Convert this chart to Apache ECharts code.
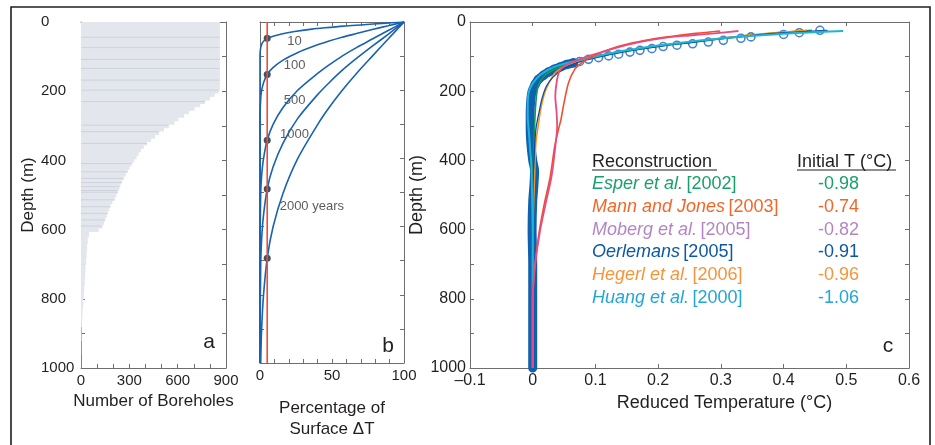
<!DOCTYPE html>
<html>
<head>
<meta charset="utf-8">
<script src="https://cdn.jsdelivr.net/npm/echarts@6/dist/echarts.min.js"></script>
<style>
html,body{margin:0;padding:0;background:#fff;}
#chart{width:935px;height:445px;}
</style>
</head>
<body>
<div id="chart"></div>
<script>
// ---- panel a : number of boreholes reaching each depth ----
var boreBinTop = [0,196,205,215,225,235,245,255,265,275,285,295,305,315,325,335,345,355,365,375,385,395,405,415,425,435,445,455,465,475,485,495,505,515,525,535,545,555,565,575,585,595,605,620,640,660,680,700,720,740,760,780,800,820,840,860,880,920,960];
var boreCount  = [862,855,830,800,770,740,705,670,640,605,580,545,515,485,460,435,410,390,372,358,345,330,315,302,290,278,265,255,245,238,228,220,210,195,183,175,165,160,150,142,132,110,50,42,38,35,32,28,26,23,20,17,14,11,8,6,4,2,1];
var boreLineDepth = [44,74,108,134,168,197,230,298,317,351,409,433,452,464,476,487,492,514,534,553,572,590];

// ---- panel b : step change penetration, % of surface dT ----
var stepDepth10   = [0,4,8,12,17,21,28,35,42,48,55,65,80,100,1000];
var stepPct10     = [100,85,72,58,45,36,24,15,9,5,2.8,1.2,0.3,0,0];
var stepDepth100  = [0,11,22,34,45,56,67,90,112,134,154,179,202,224,280,1000];
var stepPct100    = [100,89,78,67,57,48,40,26,16,9,5,2.4,1.1,0.5,0,0];
var stepDepth500  = [0,25,50,75,100,126,151,201,251,301,347,402,452,502,628,753,1000];
var stepPct500    = [100,89,78,67,57,48,40,26,16,9,5,2.4,1.1,0.5,0.1,0,0];
var stepDepth1000 = [0,36,71,107,142,178,213,284,355,426,490,568,639,710,888,1000];
var stepPct1000   = [100,89,78,67,57,48,40,26,16,9,5,2.4,1.1,0.5,0.1,0];
var stepDepth2000 = [0,50,100,151,201,251,301,402,502,602,693,803,904,1000];
var stepPct2000   = [100,89,78,67,57,48,40,26,16,9,5,2.4,1.1,0.5];
var stepLabels      = ['10','100','500','1000','2000 years'];
var stepLabelPct    = [24,24,24,24,36];
var stepLabelDepth  = [56,128,229,331,540];
var dotDepth = [48,154,347,490,693];
var dotPct = 5;

// ---- panel c : reduced temperature profiles (T degC, depth m) ----
var circDepth = [24,31,36,43,47,53,58,63,67,71,77,82,87,93,98,103,108,114,118,123,130,137,145,154,166,180];
var circT     = [0.458,0.425,0.40,0.348,0.332,0.304,0.280,0.255,0.230,0.208,0.190,0.171,0.155,0.137,0.121,0.105,0.089,0.075,0.065,0.054,0.044,0.034,0.025,0.017,0.009,0.004];
var deepDepth = [118,123,130,137,145,154,166,180,200,224,262,311,350,400,430,470,520,600,700,1000];
var deepT     = [0.065,0.054,0.044,0.034,0.025,0.017,0.009,0.004,-0.001,-0.003,-0.004,-0.004,-0.003,0,0.003,0.002,0,-0.001,0,0];
var huangDepth = [26,30,34,40,48,57,68,79,88,100,108,116,126,138,153,170,195,230,270,320,370,420,500,600,1000];
var huangT     = [0.495,0.44,0.40,0.35,0.30,0.25,0.20,0.16,0.13,0.10,0.08,0.06,0.04,0.025,0.012,0.003,-0.005,-0.008,-0.008,-0.006,-0.004,-0.002,-0.001,0,0];
var esperDepth = [24,30,38,48,59,70,84,98,110,122,137,150,166,190,233,300,400,500,1000];
var esperT     = [0.445,0.40,0.35,0.30,0.25,0.20,0.15,0.11,0.08,0.055,0.035,0.022,0.014,0.008,0.005,0.003,0.001,0,0];
var hegerlDepth = [24,29,37,47,58,69,83,97,110,121,134,148,162,200,250,310,350,446,550,700,1000];
var hegerlT     = [0.437,0.40,0.35,0.30,0.25,0.20,0.15,0.11,0.08,0.06,0.045,0.035,0.030,0.020,0.013,0.008,0.005,0.003,0.001,0,0];
var oerlDepth = [24,31,39,49,60,71,85,99,112,125,140,160,185,220,253,311,400,500,1000];
var oerlT     = [0.47,0.40,0.35,0.30,0.25,0.20,0.15,0.11,0.08,0.06,0.045,0.032,0.022,0.015,0.011,0.005,0.002,0,0];
var mannDepth = [26,33,42,53,69,88,104,118,137,176,233,282,311,360,446,530,610,697,760,800,1000];
var mannT     = [0.299,0.26,0.22,0.18,0.14,0.11,0.09,0.078,0.067,0.057,0.050,0.045,0.041,0.035,0.028,0.018,0.010,0.004,0.001,0,0];
var mobergDepth = [26,33,39,46,58,76,96,113,128,145,176,214,260,300,360,446,530,600,697,760,800,1000];
var mobergT     = [0.328,0.29,0.25,0.21,0.17,0.13,0.094,0.067,0.05,0.042,0.038,0.036,0.038,0.039,0.036,0.030,0.020,0.012,0.004,0.001,0,0];

var legendNames = ['Esper et al.','Mann and Jones','Moberg et al.','Oerlemans','Hegerl et al.','Huang et al.'];
var legendYears = ['[2002]','[2003]','[2005]','[2005]','[2006]','[2000]'];
var legendInitT = ['-0.98','-0.74','-0.82','-0.91','-0.96','-1.06'];
var legendColors = ['#19a06b','#f26629','#b485c5','#0c58a6','#f7943a','#22a5d7'];

var txt = '#231f20';
var axCol = '#6d6e70';
var font = 'Liberation Sans, Arial, sans-serif';

function pairs(xs, ys){
    return xs.map(function(x, i){ return [x, ys[i]]; });
}

function xAx(grid, min, max, interval, pos, fmt, name, gap, extra){
    var ax = {
        type:'value', gridIndex:grid, position:pos, min:min, max:max, interval:interval,
        axisLine:{onZero:false, lineStyle:{color:axCol, width:1}},
        axisTick:{inside:true, length:4, lineStyle:{color:axCol}},
        splitLine:{show:false},
        axisLabel:{show:pos === 'bottom', formatter:fmt, color:txt, fontFamily:font, fontSize:15, margin:5},
        name:pos === 'bottom' ? name : '', nameLocation:'middle', nameGap:gap,
        nameTextStyle:{color:txt, fontFamily:font, fontSize:17}
    };
    if (extra) { extra(ax); }
    return ax;
}

function yAx(grid, pos, labels, name, gap, extra){
    var ax = {
        type:'value', gridIndex:grid, position:pos, min:0, max:1000, interval:100, inverse:true,
        axisLine:{onZero:false, lineStyle:{color:axCol, width:1}},
        axisTick:{inside:true, length:4, lineStyle:{color:axCol}},
        splitLine:{show:false},
        axisLabel:{show:labels, color:txt, fontFamily:font, fontSize:15, margin:5,
            formatter:function(v){ return v % 200 === 0 ? String(v) : ''; }},
        name:name, nameLocation:'middle', nameGap:gap,
        nameTextStyle:{color:txt, fontFamily:font, fontSize:17}
    };
    if (extra) { extra(ax); }
    return ax;
}

var chart = echarts.init(document.getElementById('chart'));

function countAt(d){
    var c = 0;
    for (var i = 0; i < boreBinTop.length; i++) { if (boreBinTop[i] <= d) { c = boreCount[i]; } }
    return c;
}

var stepSets = [[stepPct10,stepDepth10],[stepPct100,stepDepth100],[stepPct500,stepDepth500],[stepPct1000,stepDepth1000],[stepPct2000,stepDepth2000]];

var series = [
    {
        type:'custom', xAxisIndex:0, yAxisIndex:0, silent:true,
        data: boreBinTop.map(function(d, i){
            return [boreCount[i], d, i < boreBinTop.length - 1 ? boreBinTop[i+1] : 1000];
        }),
        encode:{x:0, y:[1,2]},
        renderItem:function(params, api){
            var p0 = api.coord([0, api.value(1)]);
            var p1 = api.coord([api.value(0), api.value(2)]);
            return {type:'rect', shape:{x:p0[0], y:p0[1], width:p1[0]-p0[0], height:p1[1]-p0[1]+0.6},
                style:{fill:'#e3e6ed'}};
        }
    },
    {
        type:'custom', xAxisIndex:0, yAxisIndex:0, silent:true,
        data: boreLineDepth.map(function(d){ return [countAt(d), d]; }),
        renderItem:function(params, api){
            var p0 = api.coord([0, api.value(1)]);
            var p1 = api.coord([api.value(0), api.value(1)]);
            return {type:'line', shape:{x1:p0[0], y1:p0[1], x2:p1[0], y2:p1[1]},
                style:{stroke:'#cdd2dc', lineWidth:1}};
        }
    }
];

stepSets.forEach(function(s){
    series.push({type:'line', xAxisIndex:2, yAxisIndex:2, data:pairs(s[0], s[1]), smooth:0.3,
        showSymbol:false, lineStyle:{color:'#1862b0', width:1.6}, silent:true});
});
series.push({type:'line', xAxisIndex:2, yAxisIndex:2, data:[[dotPct,0],[dotPct,1000]], showSymbol:false,
    lineStyle:{color:'#ef4b36', width:1.6}, silent:true});
series.push({type:'scatter', xAxisIndex:2, yAxisIndex:2, silent:true,
    data:dotDepth.map(function(d){ return [dotPct, d]; }), symbolSize:7, itemStyle:{color:'#222'}});
series.push({type:'scatter', xAxisIndex:2, yAxisIndex:2, silent:true, symbolSize:0,
    data:stepLabels.map(function(l, i){ return {value:[stepLabelPct[i], stepLabelDepth[i]], name:l}; }),
    label:{show:true, position:'inside', formatter:'{b}', color:'#333', fontFamily:font, fontSize:13}});

function cLine(xs, ys, color, width){
    return {type:'line', xAxisIndex:4, yAxisIndex:4, data:pairs(xs, ys), smooth:0.3, showSymbol:false,
        lineStyle:{color:color, width:width}, silent:true};
}
var deep = cLine(deepT, deepDepth, '#1060b0', 9);
deep.lineStyle.cap = 'round';
deep.lineStyle.join = 'round';
deep.clip = false;
series.push(deep);
series.push({type:'scatter', xAxisIndex:4, yAxisIndex:4, data:pairs(circT, circDepth), symbol:'circle',
    symbolSize:8, itemStyle:{color:'#fff', borderColor:'#1a68bd', borderWidth:1.6}, silent:true});
series.push(cLine(esperT, esperDepth, '#12985c', 1.6));
series.push(cLine(hegerlT, hegerlDepth, '#f7941d', 1.6));
series.push(cLine(oerlT, oerlDepth, '#0b4f9c', 1.3));
series.push(cLine(huangT, huangDepth, '#1db4d6', 2));
series.push(cLine(mannT, mannDepth, '#f04e2c', 1.6));
series.push(cLine(mobergT, mobergDepth, '#ea4a7e', 1.8));

var graphics = [
    {type:'rect', shape:{x:11, y:7, width:919, height:470}, style:{fill:'none', stroke:'#231f20', lineWidth:1.6}, silent:true},
    {type:'text', x:209, y:342, style:{text:'a', fill:txt, font:'21px ' + font, align:'center', verticalAlign:'middle'}},
    {type:'text', x:388, y:346, style:{text:'b', fill:txt, font:'21px ' + font, align:'center', verticalAlign:'middle'}},
    {type:'text', x:888, y:346, style:{text:'c', fill:txt, font:'21px ' + font, align:'center', verticalAlign:'middle'}},
    {type:'text', x:592, y:162, style:{text:'Reconstruction', fill:txt, font:'18px ' + font, verticalAlign:'middle'}},
    {type:'text', x:797, y:162, style:{text:'Initial T (°C)', fill:txt, font:'18px ' + font, verticalAlign:'middle'}},
    {type:'line', shape:{x1:592, y1:170, x2:717, y2:170}, style:{stroke:txt, lineWidth:1}},
    {type:'line', shape:{x1:797, y1:170, x2:896, y2:170}, style:{stroke:txt, lineWidth:1}}
];
legendNames.forEach(function(n, i){
    var y = 184 + i * 22.8;
    graphics.push({type:'text', x:592, y:y, style:{
        text:'{i|' + n + '} {n|' + legendYears[i] + '}', fill:legendColors[i], verticalAlign:'middle',
        rich:{i:{fontStyle:'italic', fontSize:18, fontFamily:font, fill:legendColors[i]},
              n:{fontSize:18, fontFamily:font, fill:legendColors[i]}}}});
    graphics.push({type:'text', x:818, y:y, style:{text:legendInitT[i], fill:legendColors[i],
        font:'18px ' + font, verticalAlign:'middle'}});
});

var option = {
    animation:false,
    backgroundColor:'#fff',
    grid:[
        {left:81, top:22, width:145, height:346},
        {left:260, top:22, width:144, height:346},
        {left:470, top:22, width:439, height:346}
    ],
    xAxis:[
        xAx(0, 0, 900, 100, 'bottom', function(v){ return v % 300 === 0 ? String(v) : ''; }, 'Number of Boreholes', 22),
        xAx(0, 0, 900, 100, 'top'),
        xAx(1, 0, 100, 10, 'bottom', function(v){ return v % 50 === 0 ? String(v) : ''; }, 'Percentage of\nSurface ΔT', 26,
            function(ax){ ax.nameTextStyle.lineHeight = 21; ax.nameGap = 35; }),
        xAx(1, 0, 100, 10, 'top'),
        xAx(2, -0.1, 0.6, 0.1, 'bottom', function(v){ v = Math.round(v * 10) / 10; return v < 0 ? '\u2013' + (-v) : String(v); },
            'Reduced Temperature (°C)', 24,
            function(ax){ ax.axisLabel.fontSize = 16; ax.nameTextStyle.fontSize = 18; ax.nameTextStyle.padding = [0,0,0,70]; }),
        xAx(2, -0.1, 0.6, 0.1, 'top')
    ],
    yAxis:[
        yAx(0, 'left', true, 'Depth (m)', 44, function(ax){ ax.axisLabel.align = 'left'; ax.axisLabel.margin = 40; }),
        yAx(0, 'right', false, ''),
        yAx(1, 'left', false, ''),
        yAx(1, 'right', false, ''),
        yAx(2, 'left', true, 'Depth (m)', 37, function(ax){ ax.axisLabel.fontSize = 16; ax.axisLabel.margin = 4; ax.nameTextStyle.fontSize = 18; }),
        yAx(2, 'right', false, '')
    ],
    series:series,
    graphic:graphics
};
chart.setOption(option);
</script>
</body>
</html>
